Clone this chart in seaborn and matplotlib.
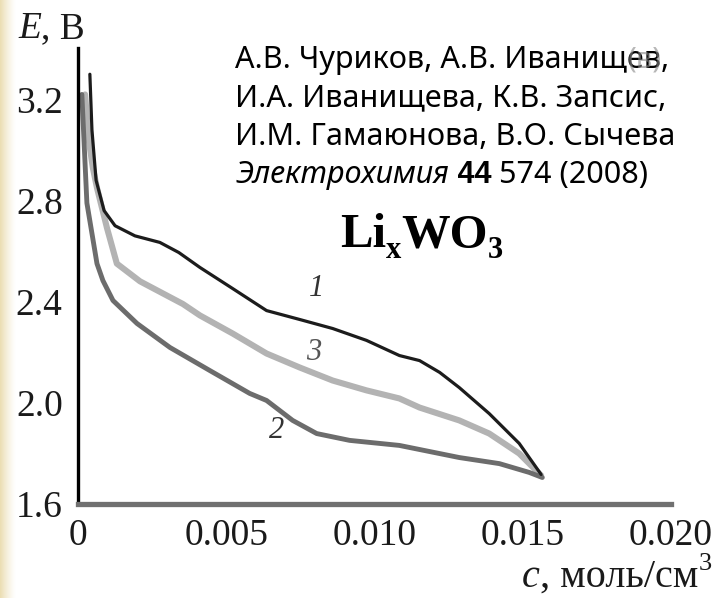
import numpy as np
import pandas as pd
import matplotlib
matplotlib.use("Agg")
import matplotlib.pyplot as plt
import seaborn as sns

# Discharge/charge curves of LixWO3: concentration c (mol/cm^3) vs potential E (V)
c_curve1 = [0.00040, 0.00047, 0.00061, 0.00088, 0.00125, 0.00192, 0.00276, 0.00340,
            0.00411, 0.00522, 0.00636, 0.00747, 0.00859, 0.00973, 0.01084, 0.01152,
            0.01220, 0.01286, 0.01387, 0.01488, 0.01562]
e_curve1 = [3.30, 3.08, 2.88, 2.76, 2.70, 2.66, 2.634, 2.594,
            2.535, 2.451, 2.364, 2.329, 2.293, 2.246, 2.186, 2.166,
            2.119, 2.059, 1.956, 1.838, 1.715]

c_curve3 = [0.00024, 0.00035, 0.00050, 0.00064, 0.00098, 0.00131, 0.00209, 0.00354,
            0.00411, 0.00522, 0.00636, 0.00747, 0.00859, 0.00973, 0.01084, 0.01152,
            0.01286, 0.01387, 0.01488, 0.01562]
e_curve3 = [3.22, 3.05, 2.93, 2.85, 2.69, 2.55, 2.48, 2.39,
            2.345, 2.273, 2.194, 2.139, 2.087, 2.048, 2.016, 1.980,
            1.929, 1.877, 1.798, 1.711]

c_curve2 = [0.00013, 0.00030, 0.00064, 0.00084, 0.00118, 0.00199, 0.00310, 0.00444,
            0.00579, 0.00636, 0.00724, 0.00805, 0.00916, 0.01084, 0.01286, 0.01421,
            0.01522, 0.01566]
e_curve2 = [3.22, 2.79, 2.55, 2.483, 2.404, 2.313, 2.218, 2.127,
            2.036, 2.008, 1.929, 1.877, 1.850, 1.830, 1.782, 1.758,
            1.723, 1.703]

curve_names = ["1", "2", "3"]
label_pos = {"1": (0.00805, 2.451), "3": (0.00795, 2.198), "2": (0.00670, 1.889)}

x_ticks = [0, 0.005, 0.010, 0.015, 0.020]
x_ticklabels = ["0", "0.005", "0.010", "0.015", "0.020"]
y_ticks = [1.6, 2.0, 2.4, 2.8, 3.2]
y_ticklabels = ["1.6", "2.0", "2.4", "2.8", "3.2"]

authors = ["А.В. Чуриков, А.В. Иванищев,",
           "И.А. Иванищева, К.В. Запсис,",
           "И.М. Гамаюнова, В.О. Сычева"]

df = pd.concat([
    pd.DataFrame({"c": c_curve1, "E": e_curve1, "curve": "1"}),
    pd.DataFrame({"c": c_curve2, "E": e_curve2, "curve": "2"}),
    pd.DataFrame({"c": c_curve3, "E": e_curve3, "curve": "3"}),
], ignore_index=True)

sns.set_style("white")
plt.rcParams["font.family"] = ["Liberation Serif", "DejaVu Serif"]

W, H = 721, 598
fig = plt.figure(figsize=(W / 100, H / 100), dpi=100)
fig.patch.set_facecolor("white")
renderer = fig.canvas.get_renderer()

# soft beige band along the left edge of the slide
band = fig.add_axes([0, 0, 16 / W, 1], zorder=-5)
xs = np.linspace(0, 1, 64)
alpha = np.clip(1 - xs, 0, 1) ** 1.3
rgba = np.zeros((1, 64, 4))
rgba[..., 0], rgba[..., 1], rgba[..., 2] = 0.925, 0.87, 0.70
rgba[..., 3] = alpha
band.imshow(rgba, aspect="auto", extent=[0, 1, 0, 1])
band.axis("off")

ax = fig.add_axes([78 / W, 1 - 503.5 / H, (671 - 78) / W, (503.5 - 48) / H])
ax.set_facecolor("none")

styles = {"3": ("#b3b3b3", 4.4), "2": ("#6c6c6c", 3.5), "1": ("#1c1c1c", 2.3)}
for name in ["3", "2", "1"]:
    col, lw = styles[name]
    sns.lineplot(data=df[df["curve"] == name], x="c", y="E", sort=False,
                 estimator=None, color=col, linewidth=lw, ax=ax,
                 solid_joinstyle="round", solid_capstyle="round")

label_colors = {"1": "#333333", "3": "#555555", "2": "#333333"}
for name in curve_names:
    cx, ey = label_pos[name]
    ax.text(cx, ey, name, fontsize=22, style="italic", color=label_colors[name],
            ha="center", va="center")

ax.set_xlim(0, 0.020)
ax.set_ylim(1.6, 1.6 + 455.5 / 252.5)
ax.set_xticks(x_ticks)
ax.set_xticklabels(x_ticklabels)
ax.set_yticks(y_ticks)
ax.set_yticklabels(y_ticklabels)
ax.set_xlabel("")
ax.set_ylabel("")

for side in ["top", "right"]:
    ax.spines[side].set_visible(False)
ax.spines["left"].set_color("black")
ax.spines["left"].set_linewidth(2.4)
ax.spines["bottom"].set_color("#707070")
ax.spines["bottom"].set_linewidth(3.8)

ax.tick_params(axis="x", direction="in", length=12, width=2.0, color="#111111",
               pad=11, labelsize=27, labelcolor="#1a1a1a")
ax.tick_params(axis="y", direction="in", length=11.5, width=2.2, color="#222222",
               pad=11, labelsize=27, labelcolor="#1a1a1a")


def put_runs(x, y, runs):
    """Write consecutive text runs starting at pixel (x, y) on the baseline."""
    for s, kw in runs:
        kw = dict(kw)
        dy = kw.pop("dy", 0)
        t = fig.text(x / W, 1 - (y + dy) / H, s, ha="left", va="baseline", **kw)
        x += t.get_window_extent(renderer).width
    return x


serif = ["Liberation Serif", "DejaVu Serif"]
sans = ["Noto Sans", "DejaVu Sans"]
sans_bold = ["Liberation Sans", "DejaVu Sans"]

# axis captions
put_runs(18, 38, [("E", dict(family=serif, style="italic", fontsize=27, color="#1a1a1a")),
                  (", В", dict(family=serif, fontsize=27, color="#1a1a1a"))])
put_runs(522, 587, [("c", dict(family=serif, style="italic", fontsize=29, color="#1a1a1a")),
                    (", моль/см", dict(family=serif, fontsize=29, color="#1a1a1a")),
                    ("3", dict(family=serif, fontsize=19, color="#1a1a1a", dy=-17))])

# reference block
for i, line in enumerate(authors):
    fig.text(235 / W, 1 - (68 + 38.3 * i) / H, line, family=sans, fontsize=22,
             color="black", ha="left", va="baseline")
fig.text(628 / W, 1 - 68 / H, "(в)", family=sans, fontsize=21, color="#888888",
         alpha=0.6, ha="left", va="baseline")
put_runs(235, 183, [("Электрохимия", dict(family=sans, style="italic", fontsize=22, color="black")),
                    (" 44", dict(family=sans_bold, weight="bold", fontsize=22, color="black")),
                    (" 574 (2008)", dict(family=sans, fontsize=22, color="black"))])

# compound formula
put_runs(340, 247, [("Li", dict(family=serif, weight="bold", fontsize=35, color="black")),
                    ("x", dict(family=serif, weight="bold", fontsize=22, color="black", dy=11)),
                    ("WO", dict(family=serif, weight="bold", fontsize=35, color="black")),
                    ("3", dict(family=serif, weight="bold", fontsize=22, color="black", dy=11))])

fig.savefig("out.png", dpi=100, facecolor="white")
